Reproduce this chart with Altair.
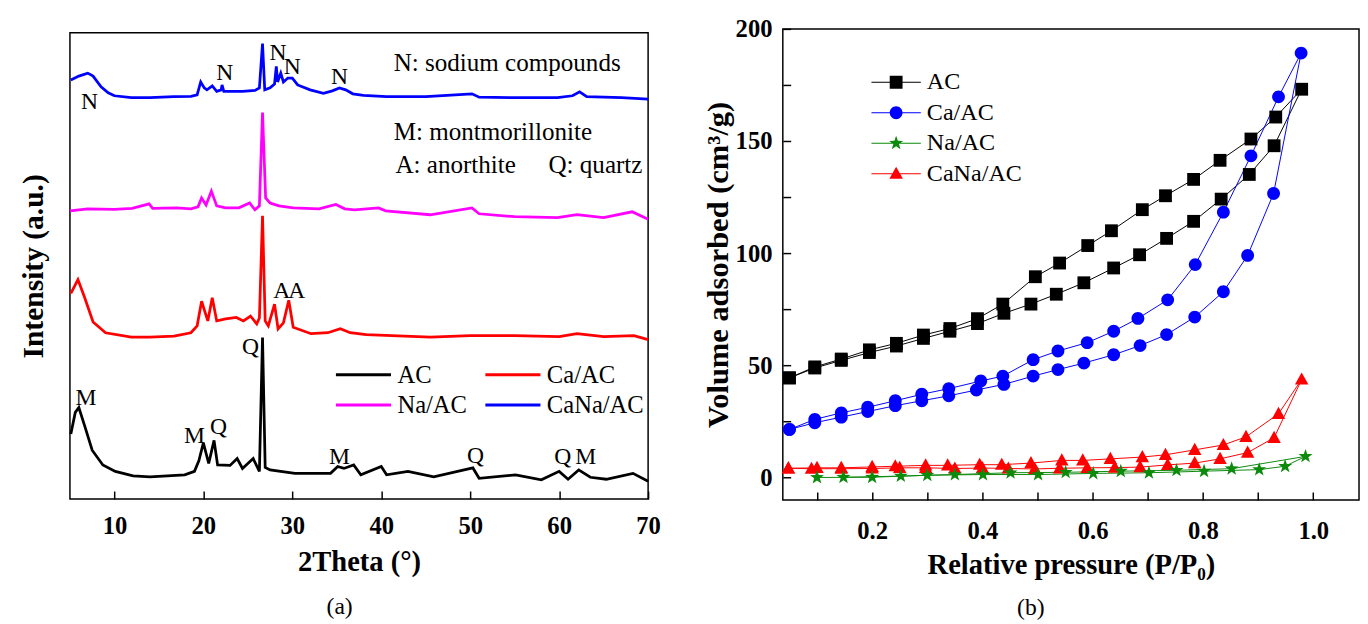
import altair as alt
import pandas as pd

FONT = "Liberation Serif"

# ---------------- Panel (a): XRD patterns ----------------
a_series = ["AC", "Na/AC", "Ca/AC", "CaNa/AC"]
a_colors = ["#000000", "#FF00FF", "#FF0000", "#0000FF"]

ac_theta = [5.1, 5.6, 6.0, 6.7, 7.5, 8.7, 10.1, 12.1, 14.0, 17.9, 19.0, 19.5, 20.0, 20.6, 21.2, 21.6, 23.0, 23.8,
            24.4, 25.6, 26.3, 26.65, 26.95, 27.5, 30.3, 34.3, 35.1, 35.8, 36.9, 37.7, 40.0, 40.6, 43.0, 45.9,
            50.3, 51.0, 55.1, 58.0, 60.0, 61.0, 62.2, 63.5, 65.3, 68.3, 70.0]
ac_int = [66, 88, 93, 73, 49.5, 34.5, 28, 23.5, 22.5, 24.5, 28, 39, 57, 36, 59.5, 34.5, 34, 41,
          31, 41, 28, 164, 32, 29.5, 26, 26, 33, 31, 34.5, 24.5, 33, 24.5, 28, 22.5,
          31.5, 21, 24.5, 19.5, 28, 20, 29.5, 22, 20, 26, 18]

ca_theta = [5.1, 5.9, 6.6, 7.6, 9.0, 11.9, 14.0, 16.7, 18.6, 19.3, 19.8, 20.5, 21.0, 21.5, 22.5, 23.7, 24.5,
            25.3, 26.0, 26.3, 26.65, 26.95, 27.3, 28.0, 28.4, 29.0, 29.6, 30.1, 32.1, 34.0, 35.4, 36.5,
            38.3, 45.5, 50.0, 55.0, 60.0, 62.0, 65.0, 68.4, 70.0]
ca_int = [209, 223, 206, 180, 169, 164.5, 164.5, 165.5, 169, 176, 201, 181, 204.5, 181, 183, 184.5, 181,
          186, 178, 184, 288, 181, 176, 198, 173, 179, 202, 174.5, 168, 169, 173, 169,
          167, 164.5, 166, 166, 165, 168, 165, 166, 162]

na_theta = [5.0, 7.0, 10.0, 12.0, 13.9, 14.3, 17.0, 18.6, 19.4, 19.8, 20.3, 20.9, 21.5, 22.5, 24.0, 25.2,
            25.8, 26.3, 26.65, 27.0, 27.5, 28.5, 30.1, 33.0, 34.9, 35.9, 37.0, 39.7, 40.5, 45.5, 50.2,
            51.0, 55.0, 59.8, 62.0, 65.0, 68.2, 70.0]
na_int = [293, 295, 294.5, 295.5, 300, 295.5, 296, 295, 297, 306, 299, 313, 298, 296, 296, 301,
          294, 298, 393, 306, 301, 298, 296, 295, 299.5, 295, 294, 296, 293, 289, 296,
          290, 287, 286, 289, 286, 292, 284.5]

cana_theta = [5.1, 6.0, 7.0, 7.6, 8.5, 9.3, 10.0, 11.9, 14.0, 16.7, 18.6, 19.3, 19.7, 20.1, 20.4, 21.0, 21.5,
              22.0, 22.1, 22.3, 24.4, 25.8, 26.3, 26.65, 26.9, 27.5, 28.0, 28.2, 28.35, 28.7, 29.0, 29.5,
              30.0, 30.6, 32.0, 33.5, 34.5, 35.3, 36.0, 36.8, 38.0, 40.6, 45.0, 50.2, 51.0, 55.0, 59.8,
              61.5, 62.3, 63.1, 67.0, 70.0]
cana_int = [426, 430, 433, 430, 419, 413, 410, 408, 408, 409, 409.5, 411, 424, 418, 416, 420, 414.5,
            416, 421, 414.5, 414.5, 415.5, 418, 463, 416, 418, 422, 440, 424, 433, 424, 428,
            428, 421, 416, 412.5, 415, 418, 416, 412, 410.5, 409, 409, 412, 408.5, 408, 408,
            410, 414, 409, 408, 406.5]

a_ann_text = ["N", "N", "N", "N", "N", "A", "A", "Q", "M", "M", "Q", "M", "Q", "Q", "M"]
a_ann_theta = [7.2, 22.4, 28.4, 30.0, 35.3, 28.8, 30.5, 25.3, 6.8, 19.0, 21.7, 35.3, 50.6, 60.4, 63.0]
a_ann_int = [404, 433, 453, 439, 429, 211, 211, 154, 103, 64, 73, 43, 44, 43, 43]

a_key_text = ["N: sodium compounds", "M: montmorillonite", "A: anorthite", "Q: quartz"]
a_key_theta = [41.4, 41.4, 41.6, 58.8]
a_key_int = [443, 373, 339, 339]

# ---------------- Panel (b): N2 isotherms ----------------
b_series = ["AC", "Ca/AC", "Na/AC", "CaNa/AC"]
b_colors = ["#000000", "#0000FF", "#0B8A0B", "#FF0000"]

ac_ads_p = [0.050, 0.096, 0.144, 0.195, 0.244, 0.293, 0.341, 0.391, 0.439, 0.488, 0.534, 0.584, 0.638, 0.685,
            0.734, 0.783, 0.833, 0.884, 0.929, 0.979]
ac_ads_v = [44.4, 48.8, 52.2, 55.7, 58.6, 62.0, 65.2, 68.6, 73.2, 77.3, 81.7, 86.8, 93.4, 99.3,
            106.6, 114.2, 124.1, 135.1, 147.9, 173.1]
ac_des_p = [0.932, 0.887, 0.831, 0.783, 0.732, 0.690, 0.634, 0.591, 0.540, 0.496, 0.437, 0.391, 0.341, 0.293,
            0.244, 0.195, 0.144, 0.096, 0.050]
ac_des_v = [160.7, 150.9, 141.4, 132.9, 125.6, 119.4, 110.0, 103.4, 95.6, 89.5, 77.3, 70.8, 66.4, 63.5,
            59.8, 56.9, 52.8, 49.3, 44.4]

ca_ads_p = [0.050, 0.096, 0.144, 0.192, 0.242, 0.290, 0.339, 0.389, 0.439, 0.492, 0.537, 0.584, 0.638, 0.686,
            0.734, 0.785, 0.837, 0.881, 0.928, 0.978]
ca_ads_v = [21.4, 24.4, 26.9, 29.4, 32.0, 34.2, 36.4, 39.0, 41.5, 45.2, 48.1, 51.0, 54.7, 58.8,
            63.7, 71.5, 82.8, 99.0, 126.6, 189.2]
ca_des_p = [0.937, 0.887, 0.837, 0.786, 0.736, 0.682, 0.638, 0.590, 0.537, 0.492, 0.437, 0.397, 0.339, 0.290,
            0.242, 0.192, 0.144, 0.096, 0.050]
ca_des_v = [169.7, 143.4, 118.3, 94.9, 79.2, 70.9, 65.2, 60.1, 56.4, 52.5, 45.2, 43.0, 39.6, 37.1,
            34.2, 31.3, 28.8, 25.9, 21.4]

na_ads_p = [0.100, 0.200, 0.300, 0.401, 0.501, 0.601, 0.702, 0.802, 0.902, 0.949, 0.986]
na_ads_v = [0.0, 0.1, 1.0, 1.3, 1.3, 1.8, 2.1, 2.8, 3.5, 5.0, 9.4]
na_des_p = [0.852, 0.752, 0.651, 0.551, 0.451, 0.350, 0.252, 0.148]
na_des_v = [3.9, 3.2, 2.8, 2.3, 2.1, 1.3, 0.6, 0.1]

cana_ads_p = [0.048, 0.090, 0.144, 0.200, 0.250, 0.297, 0.350, 0.400, 0.447, 0.495, 0.540, 0.590, 0.640, 0.686,
              0.736, 0.785, 0.831, 0.881, 0.929, 0.979]
cana_ads_v = [4.1, 3.9, 3.9, 4.0, 4.3, 4.3, 4.0, 4.2, 4.0, 3.8, 4.1, 4.3, 4.4, 4.6,
              5.6, 6.4, 8.3, 11.1, 17.7, 43.7]
cana_des_p = [0.937, 0.878, 0.837, 0.785, 0.732, 0.690, 0.632, 0.582, 0.544, 0.488, 0.435, 0.395, 0.337, 0.297,
              0.242, 0.200, 0.144, 0.100, 0.048]
cana_des_v = [28.4, 18.1, 14.5, 12.3, 10.1, 9.1, 8.3, 7.6, 7.6, 6.4, 5.7, 5.7, 5.4, 5.4,
              5.0, 4.7, 4.3, 4.3, 4.1]

# ---------------- Tables ----------------
rows_a = []
for name, th, it in [("AC", ac_theta, ac_int), ("Ca/AC", ca_theta, ca_int),
                     ("Na/AC", na_theta, na_int), ("CaNa/AC", cana_theta, cana_int)]:
    for i, (t, v) in enumerate(zip(th, it)):
        rows_a.append({"sample": name, "theta": t, "intensity": v, "idx": i})
df_a = pd.DataFrame(rows_a)
df_a_ann = pd.DataFrame({"text": a_ann_text, "theta": a_ann_theta, "intensity": a_ann_int})
df_a_key = pd.DataFrame({"text": a_key_text, "theta": a_key_theta, "intensity": a_key_int})

rows_b = []
for name, ap, av, dp, dv in [("AC", ac_ads_p, ac_ads_v, ac_des_p, ac_des_v),
                             ("Ca/AC", ca_ads_p, ca_ads_v, ca_des_p, ca_des_v),
                             ("CaNa/AC", cana_ads_p, cana_ads_v, cana_des_p, cana_des_v),
                             ("Na/AC", na_ads_p, na_ads_v, na_des_p, na_des_v)]:
    ps = ap + dp
    vs = av + dv
    for i, (p, v) in enumerate(zip(ps, vs)):
        rows_b.append({"material": name, "p": p, "v": v, "idx": i})
df_b = pd.DataFrame(rows_b)

# ---------------- Panel (a) chart ----------------
color_a = alt.Color("sample:N", scale=alt.Scale(domain=a_series, range=a_colors),
                    legend=alt.Legend(title=None, orient="none", legendX=286, legendY=339, columns=2,
                                      symbolType="M-2.8,0H2.8", symbolSize=400, symbolStrokeWidth=3,
                                      labelFont=FONT, labelFontSize=25, labelColor="black",
                                      labelOffset=22, columnPadding=12, rowPadding=5, padding=0))

x_a = alt.X("theta:Q", scale=alt.Scale(domain=[5, 70], nice=False, zero=False),
            axis=alt.Axis(title="2Theta (°)", values=list(range(10, 71, 10)), tickSize={"expr": "-8"},
                          tickColor="black", tickWidth=1.5, labelPadding=23, labelFlush=False,
                          labelOverlap=False, titlePadding=10))
y_a = alt.Y("intensity:Q", scale=alt.Scale(domain=[0, 474], nice=False, zero=False),
            axis=alt.Axis(title="Intensity (a.u.)", labels=False, ticks=False, titlePadding=22,
                          titleFontSize=30))

lines_a = alt.Chart(df_a).mark_line(strokeWidth=2.8).encode(
    x=x_a, y=y_a, color=color_a, order="idx:Q")
ann_a = alt.Chart(df_a_ann).mark_text(font=FONT, fontSize=24, color="black").encode(
    x="theta:Q", y="intensity:Q", text="text:N")
key_a = alt.Chart(df_a_key).mark_text(font=FONT, fontSize=25.5, color="black", align="left").encode(
    x="theta:Q", y="intensity:Q", text="text:N")

panel_a = alt.layer(lines_a, ann_a, key_a).properties(
    width=588, height=474,
    title=alt.TitleParams("(a)", orient="bottom", anchor="middle", frame="bounds", font=FONT,
                          fontSize=24, fontWeight="normal", color="black", offset=19))

spacer_a = alt.Chart(pd.DataFrame({"s": [0]}), view=alt.ViewBackground(stroke=None)).mark_point(
    opacity=0).encode(x=alt.value(0), y=alt.value(0)).properties(width=588, height=1)

column_a = alt.vconcat(spacer_a, panel_a, spacing=0)

# ---------------- Panel (b) chart ----------------
SQ = "M-1,-1H1V1H-1Z"
CI = "M-1,0A1,1,0,1,1,1,0A1,1,0,1,1,-1,0Z"
ST = ("M0,-1.15L0.27,-0.37L1.09,-0.36L0.44,0.14L0.68,0.93L0,0.46L-0.68,0.93L-0.44,0.14L-1.09,-0.36"
      "L-0.27,-0.37Z")
TR = "M0,-1.1L1.05,0.8H-1.05Z"
LN = "M-3.85,-0.08H3.85V0.08H-3.85Z"
b_shapes = [SQ, CI, ST, TR]
b_legend_shapes = [LN + s for s in b_shapes]

x_b = alt.X("p:Q", scale=alt.Scale(domain=[0.038, 1.083], nice=False, zero=False),
            axis=alt.Axis(title="Relative pressure (P/P₀)", values=[round(0.1 * k, 1) for k in range(1, 11)],
                          labelExpr="(round(datum.value * 10) % 2 == 0) ? format(datum.value, '.1f') : ''",
                          tickSize={"expr": "-8"}, tickColor="black", tickWidth=1.5, labelPadding=27,
                          labelFlush=False, labelOverlap=False, titlePadding=8))
y_b = alt.Y("v:Q", scale=alt.Scale(domain=[-10, 200], nice=False, zero=False),
            axis=alt.Axis(title="Volume adsorbed (cm³/g)", values=list(range(0, 201, 25)),
                          labelExpr="datum.value % 50 == 0 ? datum.value : ''",
                          tickSize={"expr": "-8"}, tickColor="black", tickWidth=1.5, labelPadding=19,
                          labelOverlap=False, titlePadding=1, titleFontSize=31))

color_scale_b = alt.Scale(domain=b_series, range=b_colors)

lines_b = alt.Chart(df_b).mark_line(strokeWidth=1).encode(
    x=x_b, y=y_b, color=alt.Color("material:N", scale=color_scale_b, legend=None),
    detail="material:N", order="idx:Q")
points_b = alt.Chart(df_b).mark_point(filled=True, size=170, opacity=1).encode(
    x="p:Q", y="v:Q", color=alt.Color("material:N", scale=color_scale_b, legend=None),
    shape=alt.Shape("material:N", scale=alt.Scale(domain=b_series, range=b_shapes), legend=None))

legend_b = alt.Legend(title=None, orient="none", legendX=103, legendY=42, symbolSize=170,
                      labelFont=FONT, labelFontSize=24.5, labelColor="black", labelOffset=19,
                      rowPadding=6, padding=0, symbolOpacity=1)
legend_layer_b = alt.Chart(df_b).transform_filter("false").mark_point(filled=True, opacity=1).encode(
    x="p:Q", y="v:Q",
    color=alt.Color("material:N", scale=color_scale_b, legend=legend_b),
    shape=alt.Shape("material:N", scale=alt.Scale(domain=b_series, range=b_legend_shapes), legend=legend_b))

panel_b = alt.layer(lines_b, points_b, legend_layer_b).resolve_scale(
    color="independent", shape="independent").properties(
    width=586, height=479,
    title=alt.TitleParams("(b)", orient="bottom", anchor="middle", frame="bounds", font=FONT,
                          fontSize=24, fontWeight="normal", color="black", offset=17))

chart = alt.hconcat(column_a, panel_b, spacing=40).resolve_scale(
    color="independent", shape="independent").resolve_legend(color="independent").properties(
    padding={"left": 10, "top": 3, "right": 0, "bottom": 0}, background="white"
).configure_view(stroke="black", strokeWidth=1.5).configure_axis(
    grid=False, domain=False, labelFont=FONT, labelFontSize=25, labelFontWeight="bold", labelColor="black",
    titleFont=FONT, titleFontSize=29, titleFontWeight="bold", titleColor="black"
)

chart.save("out.html", embed_options={"renderer": "svg", "actions": False})
